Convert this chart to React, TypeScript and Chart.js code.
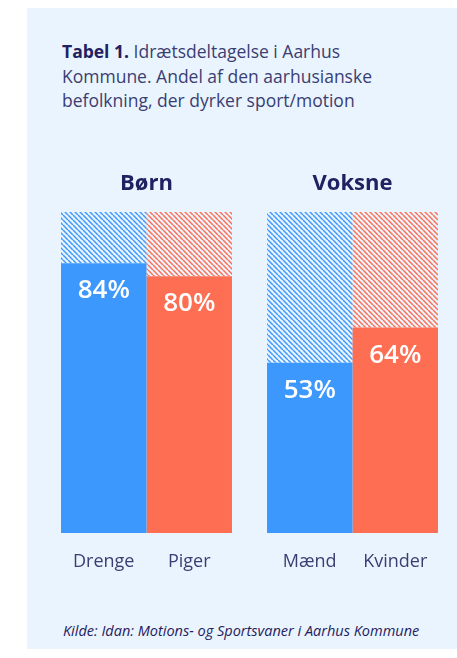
import React, { useEffect, useRef } from "react";
import { Chart, registerables } from "chart.js";

Chart.register(...registerables);

const groups = ["Børn", "Voksne"];
const maleLabels = ["Drenge", "Mænd"];
const femaleLabels = ["Piger", "Kvinder"];
const maleValues = [84, 53];
const femaleValues = [80, 64];
const fullScale = 100;

const BLUE = "#3D98FE";
const ORANGE = "#FE6E52";
const NAVY = "#1F2160";
const TEXT = "#3A3E72";
const PANEL = "#EAF4FE";
const FONT = "'Open Sans', 'Noto Sans', sans-serif";

function makeHatch(color: string): CanvasPattern | string {
  const s = 5;
  const c = document.createElement("canvas");
  c.width = s;
  c.height = s;
  const g = c.getContext("2d");
  if (!g) return color;
  g.strokeStyle = color;
  g.lineWidth = 1.5;
  for (let k = -1; k <= 1; k++) {
    g.beginPath();
    g.moveTo(k * s, 0);
    g.lineTo(k * s + s, s);
    g.stroke();
  }
  const p = g.createPattern(c, "repeat");
  return p || color;
}

const labelPlugin = {
  id: "labels",
  afterDatasetsDraw(chart: any) {
    const ctx = chart.ctx;
    const xScale = chart.scales.x;
    ctx.save();
    ctx.fillStyle = NAVY;
    ctx.font = `bold 22px ${FONT}`;
    ctx.textAlign = "center";
    ctx.textBaseline = "alphabetic";
    groups.forEach((g, i) => {
      ctx.fillText(g, xScale.getPixelForValue(i), 40);
    });
    const valueSets = [
      { idx: 0, labels: maleLabels, values: maleValues },
      { idx: 2, labels: femaleLabels, values: femaleValues },
    ];
    valueSets.forEach((set) => {
      const meta = chart.getDatasetMeta(set.idx);
      meta.data.forEach((el: any, i: number) => {
        ctx.fillStyle = "#FFFFFF";
        ctx.font = `600 26px ${FONT}`;
        ctx.fillText(`${set.values[i]}%`, el.x, el.y + 35);
        ctx.fillStyle = TEXT;
        ctx.font = `18px ${FONT}`;
        ctx.fillText(set.labels[i], el.x, 417);
      });
    });
    ctx.restore();
  },
};

function BarChart() {
  const ref = useRef<HTMLCanvasElement | null>(null);
  useEffect(() => {
    if (!ref.current) return;
    const chart = new Chart(ref.current, {
      type: "bar",
      data: {
        labels: groups,
        datasets: [
          {
            label: "Drenge / Mænd",
            data: maleValues,
            stack: "male",
            backgroundColor: BLUE,
          },
          {
            label: "rest male",
            data: maleValues.map((v) => fullScale - v),
            stack: "male",
            backgroundColor: makeHatch(BLUE) as any,
          },
          {
            label: "Piger / Kvinder",
            data: femaleValues,
            stack: "female",
            backgroundColor: ORANGE,
          },
          {
            label: "rest female",
            data: femaleValues.map((v) => fullScale - v),
            stack: "female",
            backgroundColor: makeHatch(ORANGE) as any,
          },
        ],
      },
      options: {
        animation: false,
        responsive: false,
        maintainAspectRatio: false,
        layout: { padding: { left: 15.5, right: 1.5, top: 62, bottom: 57 } },
        datasets: {
          bar: {
            barPercentage: 1,
            categoryPercentage: 0.83,
            borderWidth: 0,
          },
        },
        plugins: {
          legend: { display: false },
          tooltip: { enabled: false },
        },
        scales: {
          x: { display: false },
          y: { display: false, stacked: true, min: 0, max: fullScale },
        },
      },
      plugins: [labelPlugin],
    });
    return () => chart.destroy();
  }, []);
  return (
    <canvas
      ref={ref}
      width={429}
      height={440}
      style={{ position: "fixed", left: 28, top: 150, width: 429, height: 440 }}
    />
  );
}

export default function App() {
  return (
    <div>
      <div
        style={{
          position: "fixed",
          left: 27,
          top: 8,
          width: 430,
          height: 641,
          background: PANEL,
        }}
      />
      <div
        style={{
          position: "fixed",
          left: 62,
          top: 39,
          width: 360,
          fontFamily: FONT,
          fontSize: 17.5,
          lineHeight: "24.5px",
          color: TEXT,
        }}
      >
        <b style={{ color: NAVY }}>Tabel 1.</b> Idrætsdeltagelse i Aarhus
        <br />
        Kommune. Andel af den aarhusianske
        <br />
        befolkning, der dyrker sport/motion
      </div>
      <BarChart />
      <div
        style={{
          position: "fixed",
          left: 63,
          top: 621,
          fontFamily: FONT,
          fontStyle: "italic",
          fontSize: 14.5,
          color: NAVY,
          whiteSpace: "nowrap",
        }}
      >
        Kilde: Idan: Motions- og Sportsvaner i Aarhus Kommune
      </div>
    </div>
  );
}
